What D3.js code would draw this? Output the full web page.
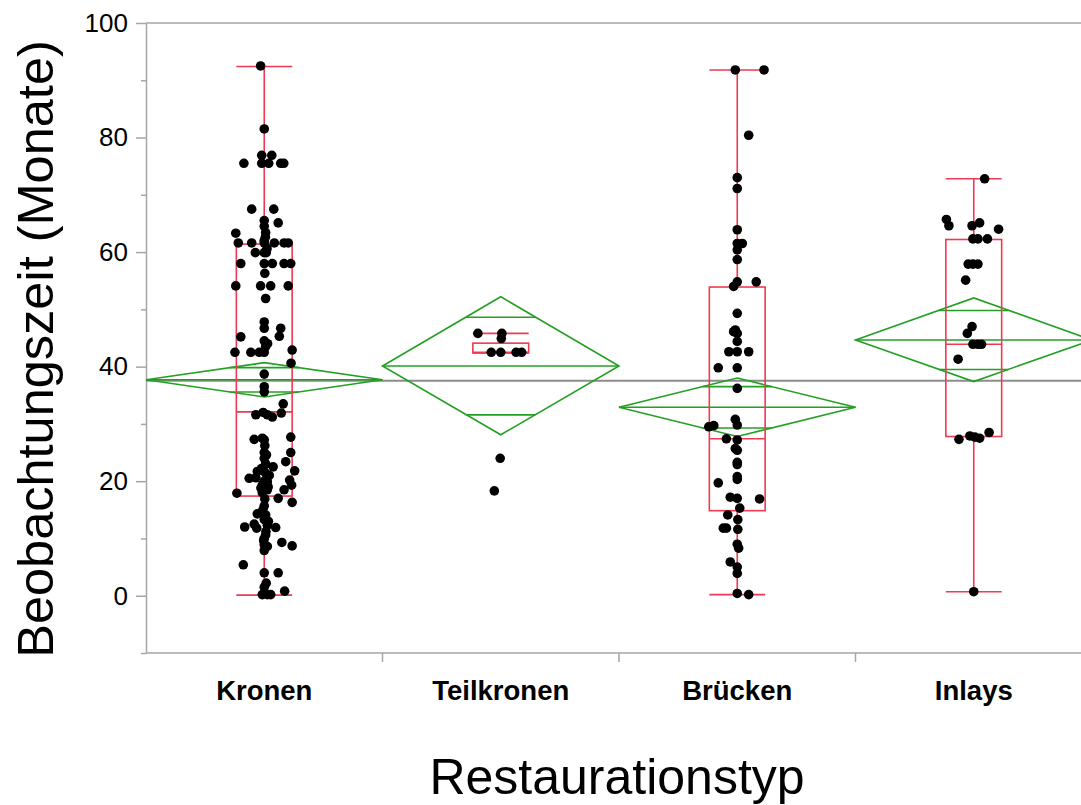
<!DOCTYPE html>
<html>
<head>
<meta charset="utf-8">
<script src="https://cdn.jsdelivr.net/npm/d3@7"></script>
<style>
  body { margin: 0; background: #fff; }
  svg { display: block; font-family: "Liberation Sans", Arial, sans-serif; }
</style>
</head>
<body>
<script>
// categories and tick values
const categories = ['Kronen', 'Teilkronen', 'Brücken', 'Inlays'];
const yTicks = [0, 20, 40, 60, 80, 100];
const yMinorTicks = [-10, 10, 30, 50, 70, 90];

// box plot summaries
const boxLow = [0.1, 42.4, 0.2, 0.7];
const boxQ1 = [17.4, 42.4, 14.85, 27.8];
const boxMedian = [32.1, 42.5, 27.4, 43.9];
const boxQ3 = [61.4, 44.1, 53.9, 62.2];
const boxHigh = [92.4, 45.8, 91.8, 72.8];

// means diamonds (mean and 95% CI)
const means = [37.7, 40.1, 32.9, 44.65];
const ciLow = [34.7, 28.1, 27.8, 37.4];
const ciHigh = [40.7, 52.2, 38.0, 52.0];
const grandMean = 37.55;

// observations (months) and horizontal jitter (in box half-widths)
const kronenValues = [92.5, 81.5, 76.9, 76.9, 75.5, 75.5, 75.5, 75.5, 75.5, 67.5, 67.5, 65.5, 64.5, 65.1, 63.3, 63.4,
  62.0, 61.6, 61.6, 61.6, 61.6, 61.6, 61.6, 59.9, 59.9, 59.9, 58.0, 58.0, 58.0, 58.0, 58.0, 54.1, 54.1, 54.1, 54.1,
  51.9, 47.8, 46.7, 46.7, 45.3, 45.2, 44.5, 43.5, 42.5, 42.5, 42.5, 42.5, 42.9, 40.6, 38.7, 36.5, 35.6, 33.5, 31.6,
  32.0, 31.6, 31.2, 31.9, 27.3, 27.5, 27.2, 27.7, 25.0, 24.0, 25.0, 23.4, 22.5, 21.7, 21.9, 21.4, 21.8, 20.5, 20.6,
  20.2, 19.3, 19.9, 17.9, 18.0, 18.5, 19.3, 18.5, 17.0, 16.3, 15.7, 14.3, 14.1, 12.0, 12.5, 11.8, 12.3, 11.9, 10.6,
  8.9, 8.6, 9.3, 8.7, 5.4, 4.0, 4.0, 1.5, 0.2, 0.2, 0.2, 0.8, 23.0, 22.2, 20.0, 19.0, 16.9, 13.3, 10.0, 7.9, 2.2,
  62.6, 60.6, 56.3, 44.0, 26.2, 24.6, 21.0, 18.8, 15.0, 13.0, 11.2, 9.6];
const kronenJitter = [-0.13, 0, -0.09, 0.27, -0.73, -0.09, 0.16, 0.59, 0.70, -0.45, 0.34, 0, 0, 0.50, -1.02, 0.05,
  0, -0.93, -0.45, 0, 0.36, 0.71, 0.86, -0.32, 0, 0.07, -0.84, 0, 0.29, 0.71, 0.95, -1.02, -0.13, 0.23, 0.86,
  0.05, 0, 0, 0.59, 0.54, -0.84, 0, 0.05, -1.05, -0.48, -0.18, 0, 1.0, 0.96, 0, 0, 0, 0.68, -0.30,
  -0.04, 0.11, 0.29, 0.61, -0.36, -0.07, 0, 0.95, 0, 0, 0.95, 0.77, 0.32, -0.25, -0.04, 0.05, 1.09, -0.54, -0.30,
  0.91, -0.07, 0.11, -0.98, -0.07, 0.71, 0.98, 0.11, 0.50, 1.0, 0, -0.25, 0.05, -0.70, -0.36, -0.27, 0.11, 0.41, 0.05,
  0, 0.11, 0.63, 1.0, -0.75, 0, 0.50, 0, -0.07, 0.11, 0.23, 0.73, 0.05, -0.10, 0, 0.14, 0.02, 0, 0, 0, 0.07,
  0.04, 0.10, 0.02, 0.12, 0.02, 0.08, 0.18, -0.12, -0.05, 0.15, 0.06, -0.02];

const teilkronenValues = [45.8, 45.8, 44.9, 42.5, 42.5, 42.5, 42.5, 24.0, 18.3];
const teilkronenJitter = [-0.82, 0.04, 0.02, -0.34, 0, 0.55, 0.75, -0.02, -0.23];

const brueckenValues = [91.8, 91.8, 80.4, 73.0, 71.1, 63.9, 61.5, 61.5, 60.4, 58.7, 54.8, 54.8, 54.0, 49.3, 46.4,
  46.1, 45.8, 44.4, 42.6, 42.6, 42.6, 39.8, 39.8, 36.2, 30.8, 29.8, 29.5, 29.7, 27.4, 27.2, 25.7, 25.4, 23.3, 22.9,
  20.8, 20.3, 19.7, 17.2, 17.0, 16.9, 15.3, 14.1, 13.3, 11.8, 11.8, 11.6, 9.0, 8.3, 5.9, 5.0, 3.9, 0.4, 0.2];
const brueckenJitter = [-0.07, 0.96, 0.41, 0, 0, 0, 0, 0.18, 0, 0, 0, 0.68, -0.13, 0, -0.07,
  -0.13, 0, 0, -0.30, 0, 0.41, -0.68, 0, 0, -0.07, 0, -1.02, -0.84, -0.39, 0, -0.07, 0, 0, 0,
  0, 0, -0.68, -0.25, 0, 0.80, 0.09, -0.34, 0.02, -0.50, -0.39, 0.02, 0, 0.05, -0.25, 0, 0, 0, 0.41];

const inlaysValues = [72.8, 65.7, 64.6, 64.6, 65.1, 64.0, 62.3, 62.3, 62.3, 57.9, 57.9, 57.9, 55.1, 47.0, 45.8,
  43.9, 43.9, 43.9, 41.3, 27.3, 27.9, 27.7, 27.5, 28.5, 0.7];
const inlaysJitter = [0.39, -0.98, -0.89, -0.06, 0.21, 0.89, -0.03, 0.15, 0.49, -0.20, -0.03, 0.15, -0.29, -0.06, -0.23,
  -0.03, 0.15, 0.28, -0.56, -0.53, -0.14, 0.04, 0.21, 0.55, 0];

const pointValues = [kronenValues, teilkronenValues, brueckenValues, inlaysValues];
const pointJitter = [kronenJitter, teilkronenJitter, brueckenJitter, inlaysJitter];

// set the dimensions of the canvas
const margin = { top: 23, left: 146 },
  width = 946,
  height = 630;

const boxColor = '#ee3a52',
  diamondColor = '#23a023',
  axisColor = '#a6a6a6';

const svg = d3.select('body').append('svg')
  .attr('width', 1081)
  .attr('height', 805);

const g = svg.append('g')
  .attr('transform', `translate(${margin.left},${margin.top})`);

// set the ranges
const x = d3.scaleBand()
  .domain(categories)
  .range([0, width])
  .padding(0);
const y = d3.scaleLinear()
  .domain([-10, 100])
  .range([height, 0]);

const bw = x.bandwidth();
const boxHalf = bw * 0.118;
const cx = (i) => x(categories[i]) + bw / 2;

// frame: top line and bottom axis line
g.append('line')
  .attr('x1', 0).attr('x2', width)
  .attr('y1', 0).attr('y2', 0)
  .attr('stroke', axisColor).attr('stroke-width', 1.5);
g.append('line')
  .attr('x1', 0).attr('x2', width)
  .attr('y1', height).attr('y2', height)
  .attr('stroke', axisColor).attr('stroke-width', 1.5);

// x ticks at the category boundaries
g.selectAll('.xtick')
  .data(categories.slice(1))
  .enter().append('line')
  .attr('x1', d => x(d)).attr('x2', d => x(d))
  .attr('y1', height).attr('y2', height + 9)
  .attr('stroke', axisColor).attr('stroke-width', 1.5);

// y axis, major and minor ticks
const yAxis = g.append('g')
  .call(d3.axisLeft(y).tickValues(yTicks).tickSize(10).tickSizeOuter(0).tickPadding(8));
yAxis.select('.domain').attr('stroke', axisColor).attr('stroke-width', 1.5);
yAxis.selectAll('.tick line').attr('stroke', axisColor).attr('stroke-width', 1.5);
yAxis.selectAll('.tick text')
  .style('font-size', '26px')
  .style('font-family', '"Liberation Sans", Arial, sans-serif')
  .attr('fill', '#000');

const yMinor = g.append('g')
  .call(d3.axisLeft(y).tickValues(yMinorTicks).tickSize(5).tickSizeOuter(0).tickFormat(''));
yMinor.select('.domain').remove();
yMinor.selectAll('.tick line').attr('stroke', axisColor).attr('stroke-width', 1.5);

// category labels
g.selectAll('.cat')
  .data(categories)
  .enter().append('text')
  .attr('x', d => x(d) + bw / 2)
  .attr('y', height + 47)
  .attr('text-anchor', 'middle')
  .style('font-size', '27.5px')
  .style('font-weight', 'bold')
  .text(d => d);

// axis titles
svg.append('text')
  .attr('x', margin.left + width / 2 - 2)
  .attr('y', 794)
  .attr('text-anchor', 'middle')
  .style('font-size', '50px')
  .text('Restaurationstyp');

svg.append('text')
  .attr('transform', 'translate(53,349) rotate(-90)')
  .attr('text-anchor', 'middle')
  .style('font-size', '50.5px')
  .text('Beobachtungszeit (Monate)');

// plot content clipped to the plot area
svg.append('clipPath').attr('id', 'plotclip')
  .append('rect').attr('x', 0).attr('y', -5).attr('width', width + 5).attr('height', height + 10);
const plot = g.append('g').attr('clip-path', 'url(#plotclip)');

// grand mean line
plot.append('line')
  .attr('x1', 0).attr('x2', width)
  .attr('y1', y(grandMean)).attr('y2', y(grandMean))
  .attr('stroke', '#8c8c8c').attr('stroke-width', 2);

// means diamonds with overlap marks
categories.forEach((c, i) => {
  const x0 = x(c), x1 = x(c) + bw, xm = cx(i);
  plot.append('path')
    .attr('d', `M${x0},${y(means[i])}L${xm},${y(ciHigh[i])}L${x1},${y(means[i])}L${xm},${y(ciLow[i])}Z`)
    .attr('fill', 'none').attr('stroke', diamondColor).attr('stroke-width', 1.6);
  plot.append('line')
    .attr('x1', x0).attr('x2', x1)
    .attr('y1', y(means[i])).attr('y2', y(means[i]))
    .attr('stroke', diamondColor).attr('stroke-width', 1.6);
  const half = (ciHigh[i] - ciLow[i]) / 2;
  const d = half / Math.SQRT2;
  const hw = (bw / 2) * (1 - 1 / Math.SQRT2);
  [means[i] + d, means[i] - d].forEach(v => {
    plot.append('line')
      .attr('x1', xm - hw).attr('x2', xm + hw)
      .attr('y1', y(v)).attr('y2', y(v))
      .attr('stroke', diamondColor).attr('stroke-width', 1.6);
  });
});

// box plots
categories.forEach((c, i) => {
  const xm = cx(i);
  const bx = plot.append('g')
    .attr('stroke', boxColor).attr('stroke-width', 1.6).attr('fill', 'none');
  bx.append('line')
    .attr('x1', xm).attr('x2', xm)
    .attr('y1', y(boxHigh[i])).attr('y2', y(boxQ3[i]));
  bx.append('line')
    .attr('x1', xm).attr('x2', xm)
    .attr('y1', y(boxQ1[i])).attr('y2', y(boxLow[i]));
  [boxHigh[i], boxLow[i], boxMedian[i]].forEach(v => {
    bx.append('line')
      .attr('x1', xm - boxHalf).attr('x2', xm + boxHalf)
      .attr('y1', y(v)).attr('y2', y(v));
  });
  bx.append('rect')
    .attr('x', xm - boxHalf)
    .attr('y', y(boxQ3[i]))
    .attr('width', boxHalf * 2)
    .attr('height', y(boxQ1[i]) - y(boxQ3[i]));
});

// the observations
categories.forEach((c, i) => {
  plot.selectAll(`.pt${i}`)
    .data(pointValues[i])
    .enter().append('circle')
    .attr('cx', (d, j) => cx(i) + pointJitter[i][j] * boxHalf)
    .attr('cy', d => y(d))
    .attr('r', 4.8)
    .attr('fill', '#000');
});
</script>
</body>
</html>
